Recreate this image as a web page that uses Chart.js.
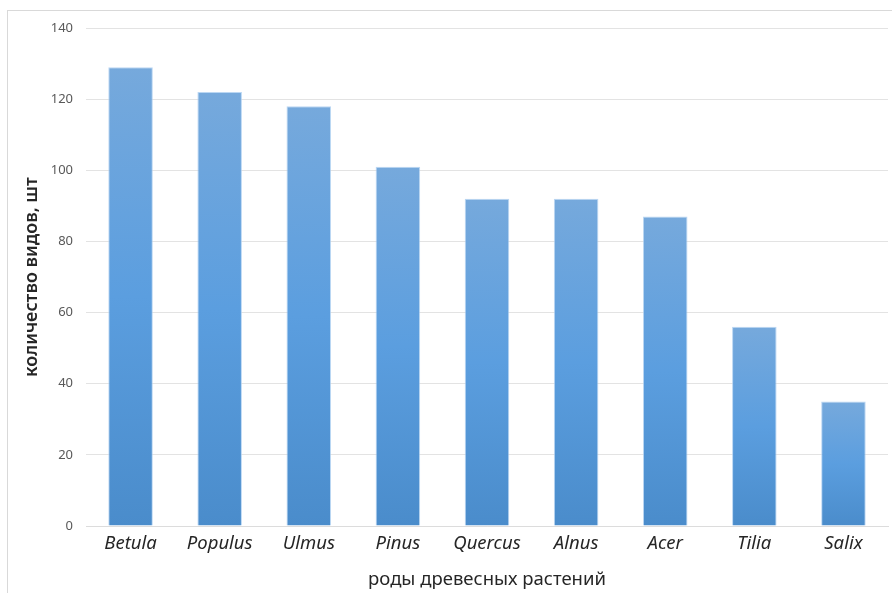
<!DOCTYPE html>
<html>
<head>
<meta charset="utf-8">
<script src="https://cdn.jsdelivr.net/npm/chart.js@4/dist/chart.umd.min.js"></script>
<style>
  html, body { margin: 0; padding: 0; background: #fff; }
  #wrap { width: 892px; height: 593px; }
</style>
</head>
<body>
<div id="wrap"><canvas id="myChart" width="892" height="593"></canvas></div>
<script>
const genera = ['Betula', 'Populus', 'Ulmus', 'Pinus', 'Quercus', 'Alnus', 'Acer', 'Tilia', 'Salix'];
const speciesCount = [129, 122, 118, 101, 92, 92, 87, 56, 35];
const yTicks = [0, 20, 40, 60, 80, 100, 120, 140];

const yTitle = 'количество видов, шт';
const xTitle = 'роды древесных растений';

// bar gradient, light at top and darker at the base
function barFill(context) {
  const chart = context.chart;
  const area = chart.chartArea;
  if (!area || context.type !== 'data') return '#5b9bd5';
  const y = chart.scales.y;
  const top = y.getPixelForValue(context.raw);
  const base = y.getPixelForValue(0);
  const g = chart.ctx.createLinearGradient(0, top, 0, base);
  g.addColorStop(0, '#76a9dc');
  g.addColorStop(0.5, '#5b9edf');
  g.addColorStop(1, '#4a8ccb');
  return g;
}

// thin grey frame round the whole chart
const framePlugin = {
  id: 'frame',
  beforeDraw(chart) {
    const c = chart.ctx;
    c.save();
    c.strokeStyle = '#d9d9d9';
    c.lineWidth = 1;
    c.strokeRect(7.5, 10.5, 900, 600);
    c.restore();
  }
};

const data = {
  labels: genera,
  datasets: [{
    data: speciesCount,
    backgroundColor: barFill,
    borderColor: 'rgba(170, 205, 240, 0.8)',
    borderWidth: 1,
    categoryPercentage: 1,
    barPercentage: 0.5
  }]
};

const config = {
  type: 'bar',
  data: data,
  options: {
    responsive: false,
    animation: false,
    layout: { padding: { left: 0, right: 4, top: 28, bottom: 0 } },
    plugins: {
      legend: { display: false },
      tooltip: { enabled: false }
    },
    scales: {
      x: {
        grid: { display: false, drawTicks: false },
        border: { display: true, color: '#dcdcdc', width: 1 },
        ticks: {
          padding: 7,
          color: '#262626',
          font: { family: 'Noto Sans', size: 18.5, style: 'italic' }
        },
        title: {
          display: true,
          text: xTitle,
          color: '#262626',
          font: { family: 'Noto Sans', size: 18.5 },
          padding: { top: 0, bottom: 2 }
        },
        afterFit(scale) { scale.height = 67; }
      },
      y: {
        min: 0,
        max: 140,
        afterBuildTicks(scale) { scale.ticks = yTicks.map(v => ({ value: v })); },
        grid: { color: '#e3e3e3', drawTicks: false },
        border: { display: false },
        ticks: {
          padding: 13,
          color: '#595959',
          font: { family: 'Noto Sans', size: 13 }
        },
        title: {
          display: true,
          text: yTitle,
          color: '#262626',
          font: { family: 'Noto Sans', size: 18, weight: '600' },
          padding: { top: 21, bottom: 0 }
        },
        afterFit(scale) { scale.width = 86; }
      }
    }
  },
  plugins: [framePlugin]
};

const myChart = new Chart(
  document.getElementById('myChart'),
  config
);
</script>
</body>
</html>
